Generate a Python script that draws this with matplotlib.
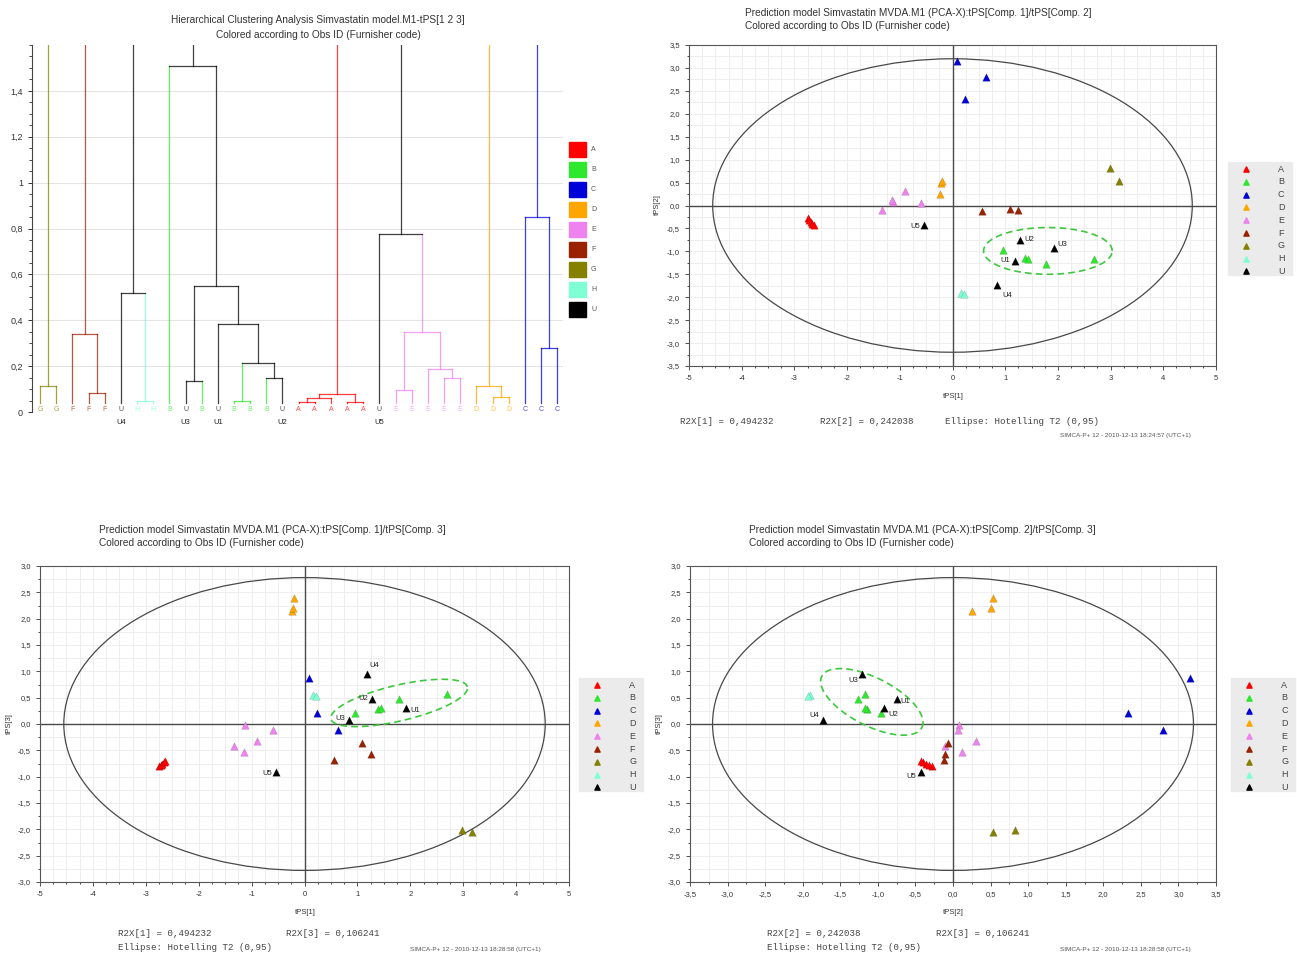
import numpy as np
import matplotlib
matplotlib.use('Agg')
import matplotlib.pyplot as plt
from matplotlib.patches import Ellipse, Rectangle
from matplotlib.ticker import MultipleLocator, FuncFormatter

plt.rcParams['font.family'] = ['Liberation Sans', 'DejaVu Sans']

W, H = 1297, 958

# furnisher codes and their colours
codes = ['A', 'B', 'C', 'D', 'E', 'F', 'G', 'H', 'U']
code_colors = {'A': '#ff0000', 'B': '#2ee82e', 'C': '#0000d8', 'D': '#ffa500',
               'E': '#ee82ee', 'F': '#9a2200', 'G': '#858000', 'H': '#7fffd4',
               'U': '#000000'}

# --- dendrogram data ---
leaf_codes = ['G', 'G', 'F', 'F', 'F', 'U', 'H', 'H', 'B', 'U', 'B', 'U', 'B', 'B', 'B',
              'U', 'A', 'A', 'A', 'A', 'A', 'U', 'E', 'E', 'E', 'E', 'E', 'D', 'D', 'D',
              'C', 'C', 'C']
leaf_names = {5: 'U4', 9: 'U3', 11: 'U1', 15: 'U2', 21: 'U5'}
# (left, right, height), ids >= 33 are earlier merges
merges = [(0, 1, 0.115), (3, 4, 0.084), (2, 34, 0.342), (6, 7, 0.05), (5, 36, 0.517),
          (9, 10, 0.133), (12, 13, 0.05), (14, 15, 0.149), (39, 40, 0.213),
          (11, 41, 0.382), (38, 42, 0.551), (8, 43, 1.51),
          (16, 17, 0.045), (19, 20, 0.045), (45, 18, 0.06), (47, 46, 0.077),
          (22, 23, 0.094), (25, 26, 0.149), (24, 50, 0.188), (49, 51, 0.349),
          (21, 52, 0.775), (28, 29, 0.065), (27, 54, 0.115), (31, 32, 0.281),
          (30, 56, 0.849)]

# --- score data (tPS[1], tPS[2], tPS[3]) ---
obs_code = ['A'] * 5 + ['B'] * 5 + ['C'] * 3 + ['D'] * 3 + ['E'] * 5 + ['F'] * 3 + \
           ['G'] * 2 + ['H'] * 2 + ['U'] * 5
t1 = [-2.75, -2.72, -2.69, -2.66, -2.63,
      0.96, 1.38, 1.44, 1.78, 2.69,
      0.08, 0.23, 0.63,
      -0.24, -0.22, -0.19,
      -1.12, -1.15, -1.33, -0.59, -0.90,
      0.56, 1.09, 1.25,
      2.98, 3.16,
      0.17, 0.22,
      1.18, 0.85, 1.28, 1.92, -0.54]
t2 = [-0.28, -0.32, -0.36, -0.40, -0.43,
      -0.96, -1.15, -1.17, -1.27, -1.17,
      3.16, 2.33, 2.80,
      0.25, 0.50, 0.53,
      0.08, 0.12, -0.10, 0.06, 0.31,
      -0.12, -0.07, -0.10,
      0.82, 0.53,
      -1.90, -1.93,
      -1.21, -1.73, -0.75, -0.92, -0.43]
t3 = [-0.79, -0.77, -0.75, -0.72, -0.70,
      0.20, 0.28, 0.31, 0.47, 0.57,
      0.87, 0.20, -0.11,
      2.14, 2.20, 2.40,
      -0.01, -0.54, -0.42, -0.11, -0.33,
      -0.68, -0.36, -0.57,
      -2.01, -2.06,
      0.55, 0.53,
      0.95, 0.08, 0.48, 0.31, -0.91]
# names of the five U observations as printed in each score plot
u_names_12 = ['U1', 'U4', 'U2', 'U3', 'U5']
u_names_13 = ['U4', 'U3', 'U2', 'U1', 'U5']
u_names_23 = ['U3', 'U4', 'U1', 'U2', 'U5']

t1, t2, t3 = np.array(t1), np.array(t2), np.array(t3)
obs_code = np.array(obs_code)

fig = plt.figure(figsize=(W / 100, H / 100), dpi=100)


def px_axes(left, top, right, bottom):
    return fig.add_axes([left / W, 1 - bottom / H, (right - left) / W, (bottom - top) / H])


def comma(v, pos=None, fmt='%g'):
    return (fmt % v).replace('.', ',')


# ---------------- dendrogram ----------------
ax = px_axes(32, 45, 563, 412)
n = len(leaf_codes)
xpos = {i: float(i) for i in range(n)}
ypos = {i: 0.04 for i in range(n)}
code_of = {i: leaf_codes[i] for i in range(n)}
used = set()
for k, (a, b, h) in enumerate(merges):
    node = n + k
    ca, cb = code_of[a], code_of[b]
    c = ca if ca == cb else 'U'
    ax.plot([xpos[a], xpos[a]], [ypos[a], h], color=code_colors[ca], lw=0.9, alpha=0.75)
    ax.plot([xpos[b], xpos[b]], [ypos[b], h], color=code_colors[cb], lw=0.9, alpha=0.75)
    ax.plot([xpos[a], xpos[b]], [h, h], color=code_colors[c], lw=0.9, alpha=0.75)
    xpos[node] = (xpos[a] + xpos[b]) / 2
    ypos[node] = h
    code_of[node] = c
    used.update([a, b])
for r in xpos:
    if r not in used:
        ax.plot([xpos[r], xpos[r]], [ypos[r], 1.7], color=code_colors[code_of[r]],
                lw=0.9, alpha=0.75)
for i, c in enumerate(leaf_codes):
    ax.text(i, 0.012, c, color=code_colors[c], fontsize=5, ha='center', va='center', alpha=0.7)
for i, name in leaf_names.items():
    ax.text(i, -0.045, name, color='#222222', fontsize=5.5, ha='center', va='center')

ax.set_xlim(-0.5, 32.36)
ax.set_ylim(0, 1.6)
ax.set_yticks(np.arange(0, 1.41, 0.2))
ax.yaxis.set_minor_locator(MultipleLocator(0.05))
ax.yaxis.set_major_formatter(FuncFormatter(lambda v, p: comma(round(v, 2))))
ax.set_xticks([])
ax.grid(axis='y', color='#e4e4e4', lw=0.8)
ax.set_axisbelow(True)
for s in ['top', 'right', 'bottom']:
    ax.spines[s].set_visible(False)
ax.spines['left'].set_color('#444444')
ax.tick_params(axis='y', labelsize=6.5, colors='#333333', length=3, width=0.7)
ax.tick_params(axis='y', which='minor', length=2, width=0.5)
ax.patch.set_alpha(0)


# ---------------- score plots ----------------
def score_plot(rect, x, y, a, b, xlim, ylim, xmajor, xminor, xfmt, names, offsets, green):
    ax = px_axes(*rect)
    ax.add_patch(Ellipse((0, 0), 2 * a, 2 * b, fill=False, ec='#484848', lw=0.9, zorder=2))
    ax.axhline(0, color='#484848', lw=1.0, zorder=2)
    ax.axvline(0, color='#484848', lw=1.0, zorder=2)
    cx, cy, u, v = green
    tt = np.linspace(0, 2 * np.pi, 200)
    ax.plot(cx + u[0] * np.cos(tt) + v[0] * np.sin(tt),
            cy + u[1] * np.cos(tt) + v[1] * np.sin(tt),
            color='#3cc83c', lw=1.2, ls=(0, (4, 2.5)), zorder=2)
    for c in codes:
        m = obs_code == c
        ax.scatter(x[m], y[m], marker='^', s=30, color=code_colors[c],
                   edgecolors='#00000044', linewidths=0.3, zorder=3)
    ux, uy = x[obs_code == 'U'], y[obs_code == 'U']
    for name, px, py, off in zip(names, ux, uy, offsets):
        ax.annotate(name, (px, py), xytext=off, textcoords='offset points', fontsize=5.5,
                    color='#222222', ha='left' if off[0] > 0 else 'right', va='center')
    ax.set_xlim(*xlim)
    ax.set_ylim(*ylim)
    ax.xaxis.set_major_locator(MultipleLocator(xmajor))
    ax.xaxis.set_minor_locator(MultipleLocator(xminor))
    ax.yaxis.set_major_locator(MultipleLocator(0.5))
    ax.yaxis.set_minor_locator(MultipleLocator(0.25))
    ax.xaxis.set_major_formatter(FuncFormatter(lambda v, p: comma(v, fmt=xfmt)))
    ax.yaxis.set_major_formatter(FuncFormatter(lambda v, p: comma(v, fmt='%.1f')))
    ax.grid(which='both', color='#eeeeee', lw=0.7)
    ax.set_axisbelow(True)
    for s in ax.spines.values():
        s.set_color('#555555')
        s.set_linewidth(0.8)
    ax.tick_params(labelsize=5.5, colors='#333333', length=3, width=0.6, direction='out')
    ax.tick_params(which='minor', length=1.5, width=0.5)
    return ax


score_plot((689, 45, 1216, 366), t1, t2, 4.55, 3.2, (-5, 5), (-3.5, 3.5), 1, 0.25, '%d',
           u_names_12, [(-3, 0), (4, -8), (3, 0), (3, 2), (-3, -1)],
           (1.81, -0.99, (1.22, 0.0), (0.0, 0.51)))
score_plot((40, 566, 569, 882), t1, t3, 4.55, 2.78, (-5, 5), (-3, 3), 1, 0.25, '%d',
           u_names_13, [(2, 6), (-3, 1), (-3, 0), (3, -2), (-3, -1)],
           (1.79, 0.40, (1.29, 0.305), (-0.08, 0.33)))
score_plot((690, 566, 1216, 882), t2, t3, 3.2, 2.78, (-3.5, 3.5), (-3, 3), 0.5, 0.25, '%.1f',
           u_names_23, [(-3, -5), (-3, 3), (3, -2), (3, -5), (-3, -3)],
           (-1.08, 0.42, (0.665, -0.49), (0.15, 0.40)))

# ---------------- overlay: titles, legends, notes ----------------
ov = fig.add_axes([0, 0, 1, 1])
ov.set_xlim(0, W)
ov.set_ylim(H, 0)
ov.axis('off')

tkw = dict(fontsize=7.3, color='#333333', va='center')
ov.text(318, 20, 'Hierarchical Clustering Analysis Simvastatin model.M1-tPS[1 2 3]', ha='center', **tkw)
ov.text(318, 35, 'Colored according to Obs ID (Furnisher code)', ha='center', **tkw)
titles = [(745, 13, 'Prediction model Simvastatin MVDA.M1 (PCA-X):tPS[Comp. 1]/tPS[Comp. 2]'),
          (99, 530, 'Prediction model Simvastatin MVDA.M1 (PCA-X):tPS[Comp. 1]/tPS[Comp. 3]'),
          (749, 530, 'Prediction model Simvastatin MVDA.M1 (PCA-X):tPS[Comp. 2]/tPS[Comp. 3]')]
for x0, y0, t in titles:
    ov.text(x0, y0, t, ha='left', **tkw)
    ov.text(x0, y0 + 13, 'Colored according to Obs ID (Furnisher code)', ha='left', **tkw)

# dendrogram legend
for k, c in enumerate(codes):
    yy = 149 + 20.1 * k
    ov.add_patch(Rectangle((569, yy - 7.5), 17, 15, color=code_colors[c]))
    ov.text(591, yy, c, fontsize=5, color='#555555', va='center')

# score plot legends
for bx, by in [(1228, 162), (579, 678), (1231, 678)]:
    ov.add_patch(Rectangle((bx, by), 64, 113, color='#ebebeb', zorder=0))
    for k, c in enumerate(codes):
        yy = by + 7 + 12.8 * k
        ov.scatter([bx + 18], [yy], marker='^', s=14, color=code_colors[c])
        ov.text(bx + 50, yy, c, fontsize=6.5, color='#444444', va='center', ha='left')

# axis labels
lkw = dict(fontsize=5.5, color='#333333', ha='center', va='center')
ov.text(953, 397, 'tPS[1]', **lkw)
ov.text(657, 205, 'tPS[2]', rotation=90, **lkw)
ov.text(305, 912, 'tPS[1]', **lkw)
ov.text(9, 724, 'tPS[3]', rotation=90, **lkw)
ov.text(953, 912, 'tPS[2]', **lkw)
ov.text(659, 724, 'tPS[3]', rotation=90, **lkw)

# notes under the score plots
mkw = dict(fontsize=6.6, family='Liberation Mono', color='#444444', va='center')
skw = dict(fontsize=4.6, color='#555555', va='center')
ov.text(680, 421, 'R2X[1] = 0,494232', **mkw)
ov.text(820, 421, 'R2X[2] = 0,242038', **mkw)
ov.text(945, 421, 'Ellipse: Hotelling T2 (0,95)', **mkw)
ov.text(1060, 435, 'SIMCA-P+ 12 - 2010-12-13 18:24:57 (UTC+1)', **skw)

ov.text(118, 933, 'R2X[1] = 0,494232', **mkw)
ov.text(286, 933, 'R2X[3] = 0,106241', **mkw)
ov.text(118, 947, 'Ellipse: Hotelling T2 (0,95)', **mkw)
ov.text(410, 950, 'SIMCA-P+ 12 - 2010-12-13 18:28:58 (UTC+1)', **skw)

ov.text(767, 933, 'R2X[2] = 0,242038', **mkw)
ov.text(936, 933, 'R2X[3] = 0,106241', **mkw)
ov.text(767, 947, 'Ellipse: Hotelling T2 (0,95)', **mkw)
ov.text(1060, 950, 'SIMCA-P+ 12 - 2010-12-13 18:28:58 (UTC+1)', **skw)

fig.savefig('out.png', dpi=100)
